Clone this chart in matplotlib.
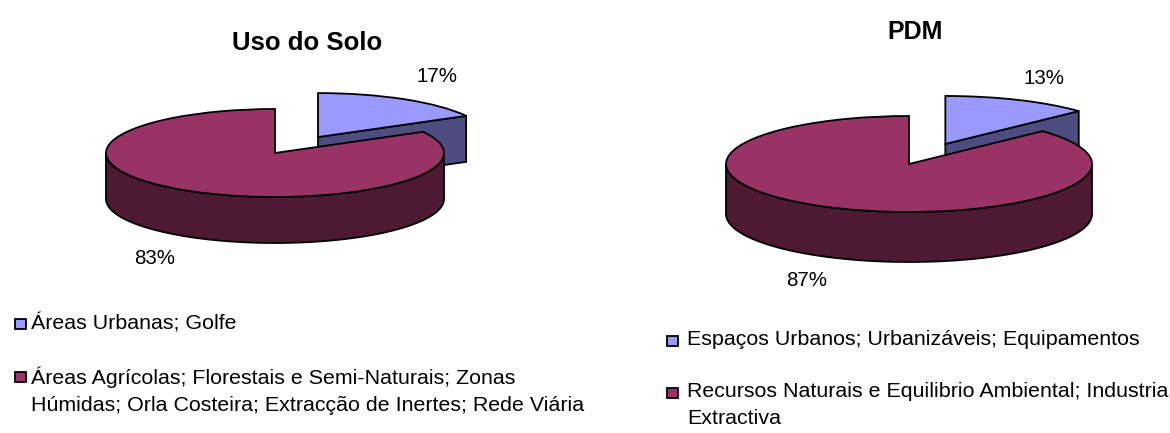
import matplotlib
matplotlib.use('Agg')
import matplotlib.pyplot as plt
import numpy as np
from matplotlib.patches import Polygon, Rectangle

plt.rcParams['font.family'] = ['Liberation Sans', 'DejaVu Sans']

W, H = 1170, 433

# data
titles = ['Uso do Solo', 'PDM']
values_solo = [17, 83]
values_pdm = [13, 87]
legend_solo = ['Áreas Urbanas; Golfe',
               'Áreas Agrícolas; Florestais e Semi-Naturais; Zonas\nHúmidas; Orla Costeira; Extracção de Inertes; Rede Viária']
legend_pdm = ['Espaços Urbanos; Urbanizáveis; Equipamentos',
              'Recursos Naturais e Equilibrio Ambiental; Industria\nExtractiva']

top_colors = ['#9999FF', '#993366']
side_colors = ['#4D4D80', '#4D1933']

fig = plt.figure(figsize=(W / 100, H / 100), dpi=100, facecolor='white')


def px_text(x, y, s, **kw):
    fig.text(x / W, 1 - y / H, s, **kw)


def arc(center, a1, a2, dy=0.0):
    # points on the unit circle between two angles, moved down by dy
    t = np.radians(np.linspace(a1, a2, 120))
    return np.column_stack([center[0] + np.cos(t), center[1] + np.sin(t) - dy])


def pie3d(values, cx, cy, rx, ry, depth, pull, drop):
    # axes spans 1.5 radii each way, so one data unit is rx by ry pixels
    ax = fig.add_axes([(cx - 1.5 * rx) / W, 1 - (cy + 2.5 * ry) / H, 3 * rx / W, 4 * ry / H])
    wedges, _ = ax.pie(values, colors=top_colors, startangle=90, counterclock=False,
                       explode=[pull, 0], wedgeprops=dict(edgecolor='black', linewidth=1.3))
    ax.set_aspect('auto')
    ax.set_xlim(-1.5, 1.5)
    ax.set_ylim(-2.5, 1.5)
    d = depth / ry
    small, big = wedges
    small.set_zorder(3)
    big.set_zorder(5)
    # pulled-out slice sits a bit lower than the explode puts it
    small.set_center((small.center[0], small.center[1] - drop / ry))
    # cut face and outer wall of the pulled-out slice
    c = np.array(small.center)
    tip = arc(small.center, small.theta1, small.theta1)[0]
    ax.add_patch(Polygon([c, tip, tip - [0, d], c - [0, d]], closed=True, facecolor=side_colors[0],
                         edgecolor='black', linewidth=1.3, zorder=2))
    # front wall of the big slice
    front = np.vstack([arc(big.center, -180, 0), arc(big.center, 0, -180, d)])
    ax.add_patch(Polygon(front, closed=True, facecolor=side_colors[1],
                         edgecolor='black', linewidth=1.3, zorder=4))
    return ax


pie3d(values_solo, 275, 153, 169, 44, 46, 0.50, 3)
pie3d(values_pdm, 909, 164, 183, 48, 50, 0.50, 2)

px_text(307, 43, titles[0], fontsize=18.5, fontweight='bold', ha='center', va='center')
px_text(915, 32, titles[1], fontsize=18, fontweight='bold', ha='center', va='center')

label_size = 14.8
px_text(437, 77, f'{values_solo[0]}%', fontsize=label_size, ha='center', va='center')
px_text(155, 259, f'{values_solo[1]}%', fontsize=label_size, ha='center', va='center')
px_text(1044, 78, f'{values_pdm[0]}%', fontsize=label_size, ha='center', va='center')
px_text(807, 280, f'{values_pdm[1]}%', fontsize=label_size, ha='center', va='center')


def legend_entry(sq_x, y, text_x, s, color):
    fig.add_artist(Rectangle((sq_x / W, 1 - (y + 5) / H), 11 / W, 10 / H, transform=fig.transFigure,
                             facecolor=color, edgecolor='black', linewidth=1.3))
    px_text(text_x, y - 11, s, fontsize=15.4, va='top', linespacing=1.55)


legend_entry(15, 324, 31, legend_solo[0], top_colors[0])
legend_entry(15, 377, 31, legend_solo[1], top_colors[1])
legend_entry(667, 341, 687, legend_pdm[0], top_colors[0])
legend_entry(667, 393, 687, legend_pdm[1], top_colors[1])

fig.savefig('out.png', dpi=100)
